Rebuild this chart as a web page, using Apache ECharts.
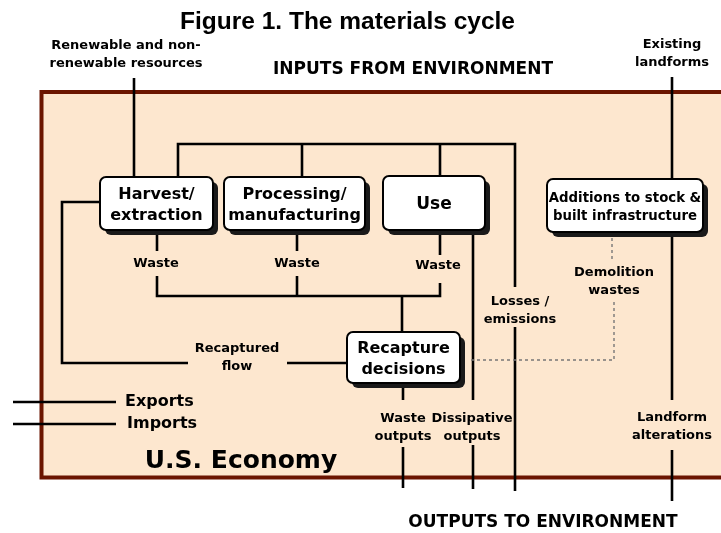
<!DOCTYPE html>
<html>
<head>
<meta charset="utf-8">
<script src="https://cdn.jsdelivr.net/npm/echarts@6/dist/echarts.min.js"></script>
<style>
  html, body { margin: 0; padding: 0; background: #fff; }
  #chart { width: 721px; height: 533px; }
</style>
</head>
<body>
<div id="chart"></div>
<script>
const TITLE_FONT = '"Liberation Sans", Arial, sans-serif';
const FONT = '"DejaVu Sans", Verdana, sans-serif';

// economy area [x0, y0, x1, y1]
const economy = [41.5, 92, 745, 477.5];

// process boxes: label, x0, y0, x1, y1, font size
const boxes = [
  ['Harvest/\nextraction', 100, 177, 213, 230, 16],
  ['Processing/\nmanufacturing', 224, 177, 365, 230, 16],
  ['Use', 383, 176, 485, 230, 17],
  ['Additions to stock &\nbuilt infrastructure', 547, 179, 703, 232, 13.3],
  ['Recapture\ndecisions', 347, 332, 460, 383, 16]
];

// flow lines (polylines)
const flows = [
  [[134, 78], [134, 177]],
  [[672, 77], [672, 179]],
  [[178, 177], [178, 144], [515, 144], [515, 287]],
  [[302, 144], [302, 177]],
  [[440, 144], [440, 176]],
  [[157, 230], [157, 251]],
  [[297, 230], [297, 251]],
  [[440, 230], [440, 255]],
  [[157, 276], [157, 296], [440, 296], [440, 283]],
  [[297, 276], [297, 296]],
  [[402, 296], [402, 332]],
  [[473, 230], [473, 400]],
  [[473, 445], [473, 489]],
  [[403, 383], [403, 400]],
  [[403, 447], [403, 488]],
  [[515, 327], [515, 491]],
  [[672, 232], [672, 400]],
  [[672, 450], [672, 501]],
  [[100, 202], [62, 202], [62, 363], [188, 363]],
  [[287, 363], [347, 363]],
  [[13, 402], [116, 402]],
  [[13, 424], [116, 424]]
];

// demolition waste path (dashed)
const dashedFlows = [
  [[612, 232], [612, 260]],
  [[614, 302], [614, 360], [470, 360]]
];

// text labels: text, x, y, size, align
const labels = [
  ['Renewable and non-\nrenewable resources', 126, 55, 13, 'center'],
  ['INPUTS FROM ENVIRONMENT', 413, 70, 17, 'center'],
  ['Existing\nlandforms', 672, 54, 13, 'center'],
  ['Waste', 156, 264, 13, 'center'],
  ['Waste', 297, 264, 13, 'center'],
  ['Waste', 438, 266, 13, 'center'],
  ['Losses /\nemissions', 520, 311, 13, 'center'],
  ['Demolition\nwastes', 614, 282, 13, 'center'],
  ['Recaptured\nflow', 237, 358, 13, 'center'],
  ['Exports', 125, 402, 16, 'left'],
  ['Imports', 127, 424, 16, 'left'],
  ['Waste\noutputs', 403, 428, 13, 'center'],
  ['Dissipative\noutputs', 472, 428, 13, 'center'],
  ['Landform\nalterations', 672, 427, 13, 'center'],
  ['U.S. Economy', 241, 461, 25, 'center'],
  ['OUTPUTS TO ENVIRONMENT', 543, 523, 17, 'center']
];

const myChart = echarts.init(document.getElementById('chart'));

function polyline(api, pts, style) {
  return {
    type: 'polyline',
    shape: { points: pts.map(p => api.coord(p)) },
    style: style,
    silent: true
  };
}

const option = {
  animation: false,
  title: {
    text: 'Figure 1. The materials cycle',
    left: 175,
    top: 5,
    textStyle: { fontFamily: TITLE_FONT, fontSize: 24.5, fontWeight: 'bold', color: '#000' }
  },
  grid: { left: 0, right: 0, top: 0, bottom: 0 },
  xAxis: { type: 'value', min: 0, max: 721, show: false },
  yAxis: { type: 'value', min: 0, max: 533, inverse: true, show: false },
  series: [
    {
      type: 'custom',
      data: [economy],
      renderItem: (params, api) => {
        const a = api.coord([economy[0], economy[1]]);
        const b = api.coord([economy[2], economy[3]]);
        return {
          type: 'rect',
          shape: { x: a[0], y: a[1], width: b[0] - a[0], height: b[1] - a[1] },
          style: { fill: '#fde7cf', stroke: '#6b1500', lineWidth: 4 }
        };
      }
    },
    {
      type: 'custom',
      data: flows.map((f, i) => [i]),
      renderItem: (params, api) => polyline(api, flows[params.dataIndex],
        { fill: null, stroke: '#000', lineWidth: 2.6 })
    },
    {
      type: 'custom',
      data: dashedFlows.map((f, i) => [i]),
      renderItem: (params, api) => polyline(api, dashedFlows[params.dataIndex],
        { fill: null, stroke: '#777', lineWidth: 1.4, lineDash: [3, 3] })
    },
    {
      type: 'custom',
      data: boxes.map((b, i) => [i]),
      renderItem: (params, api) => {
        const b = boxes[params.dataIndex];
        const a = api.coord([b[1], b[2]]);
        const c = api.coord([b[3], b[4]]);
        const w = c[0] - a[0], h = c[1] - a[1];
        return {
          type: 'group',
          children: [
            { type: 'rect', shape: { x: a[0] + 5, y: a[1] + 5, width: w, height: h, r: 6 },
              style: { fill: '#1a1a1a' } },
            { type: 'rect', shape: { x: a[0], y: a[1], width: w, height: h, r: 6 },
              style: { fill: '#fff', stroke: '#000', lineWidth: 2 } },
            { type: 'text',
              style: { text: b[0], x: a[0] + w / 2, y: a[1] + h / 2 + 2, align: 'center',
                verticalAlign: 'middle', font: 'bold ' + b[5] + 'px ' + FONT,
                lineHeight: b[5] + 5, fill: '#000' } }
          ]
        };
      }
    },
    {
      type: 'custom',
      data: labels.map((l, i) => [i]),
      renderItem: (params, api) => {
        const l = labels[params.dataIndex];
        const p = api.coord([l[1], l[2]]);
        return {
          type: 'text',
          style: { text: l[0], x: p[0], y: p[1], align: l[4], verticalAlign: 'middle',
            font: 'bold ' + l[3] + 'px ' + FONT, lineHeight: l[3] + 5, fill: '#000' }
        };
      }
    }
  ]
};

myChart.setOption(option);
</script>
</body>
</html>
